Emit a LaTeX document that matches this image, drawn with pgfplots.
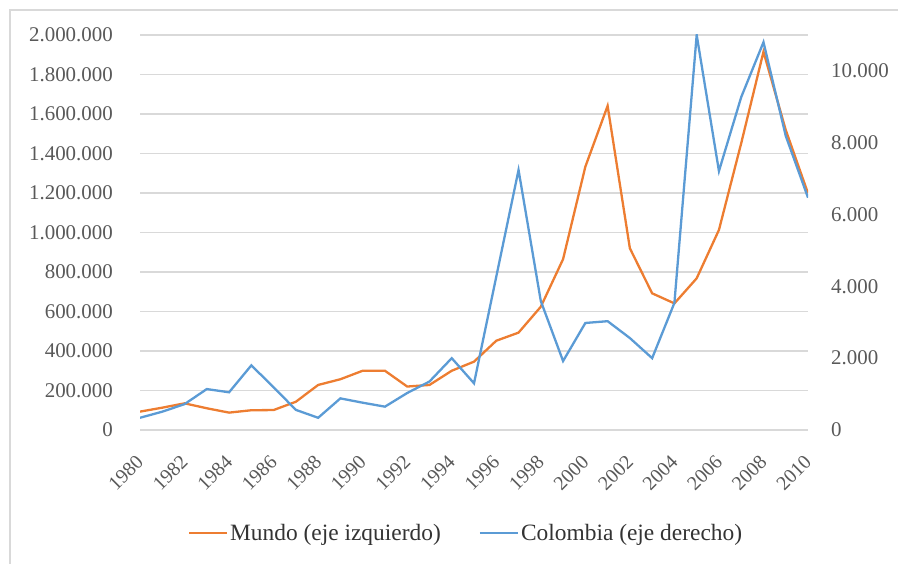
\documentclass[border=0pt]{standalone}
\usepackage{fontspec}
\setmainfont{Liberation Serif}
\usepackage{pgfplots}
\pgfplotsset{compat=1.18}
\definecolor{mundo}{HTML}{ED7D31}
\definecolor{colom}{HTML}{5B9BD5}
\definecolor{gridc}{HTML}{D9D9D9}
\definecolor{tickc}{HTML}{595959}
\begin{document}
\begin{tikzpicture}[x=1bp,y=1bp]
\path[use as bounding box] (0,0) rectangle (898,564);
\draw[gridc, line width=1.2bp] (10,0) -- (10,554) -- (898,554);
\pgfplotsset{base/.style={
  scale only axis, width=668bp, height=395bp,
  at={(140bp,134bp)}, anchor=south west,
  xmin=1980, xmax=2010,
  scaled y ticks=false, scaled x ticks=false,
  axis line style={draw=none},
  tick style={draw=none},
  tick label style={font=\fontsize{21}{24}\selectfont, text=tickc},
}}
\begin{axis}[base,
  ymin=0, ymax=2000000,
  ytick={0,200000,400000,600000,800000,1000000,1200000,1400000,1600000,1800000,2000000},
  yticklabels={0,200.000,400.000,600.000,800.000,1.000.000,1.200.000,1.400.000,1.600.000,1.800.000,2.000.000},
  yticklabel style={inner sep=0pt, xshift=-27bp},
  ymajorgrids, major grid style={gridc, line width=1.2bp},
  xtick={1980,1982,...,2010},
  xticklabels={1980,1982,1984,1986,1988,1990,1992,1994,1996,1998,2000,2002,2004,2006,2008,2010},
  xticklabel style={font=\fontsize{20}{22}\selectfont, inner sep=0pt, yshift=-29bp, xshift=0bp, rotate=45, anchor=east},
]
\addplot[mundo, line width=2.3bp] coordinates {
(1980,93000) (1981,113000) (1982,135000) (1983,110000) (1984,88000)
(1985,100000) (1986,101000) (1987,143000) (1988,228000) (1989,257000)
(1990,300000) (1991,300000) (1992,220000) (1993,228000) (1994,300000)
(1995,346000) (1996,452000) (1997,493000) (1998,624000) (1999,865000)
(2000,1333000) (2001,1641000) (2002,920000) (2003,692000) (2004,641000)
(2005,768000) (2006,1013000) (2007,1452000) (2008,1915000) (2009,1519000)
(2010,1198000)};
\end{axis}
\begin{axis}[base,
  ymin=0, ymax=11000,
  axis y line*=right, axis x line=none,
  ytick={0,2000,4000,6000,8000,10000},
  yticklabels={0,2.000,4.000,6.000,8.000,10.000},
  yticklabel style={inner sep=0pt, xshift=23bp, anchor=west},
  legend style={at={(0.488,-0.261)}, anchor=center, draw=none, fill=none,
    font=\fontsize{23.5}{26}\selectfont, text=black!80,
    legend columns=2,
    /tikz/every even column/.append style={column sep=36bp},
    nodes={inner sep=2bp}},
  legend image code/.code={\draw[#1] (0bp,0bp) -- (38bp,0bp);},
]
\addlegendimage{mundo, line width=2.3bp}
\addlegendentry{Mundo (eje izquierdo)}
\addplot[colom, line width=2.3bp] coordinates {
(1980,340) (1981,510) (1982,720) (1983,1140) (1984,1050)
(1985,1800) (1986,1190) (1987,560) (1988,340) (1989,880)
(1990,760) (1991,650) (1992,1030) (1993,1350) (1994,2000)
(1995,1300) (1996,4270) (1997,7240) (1998,3590) (1999,1920)
(2000,2980) (2001,3030) (2002,2560) (2003,2000) (2004,3540)
(2005,11000) (2006,7210) (2007,9270) (2008,10800) (2009,8190)
(2010,6470)};
\addlegendentry{Colombia (eje derecho)}
\end{axis}
\end{tikzpicture}
\end{document}
